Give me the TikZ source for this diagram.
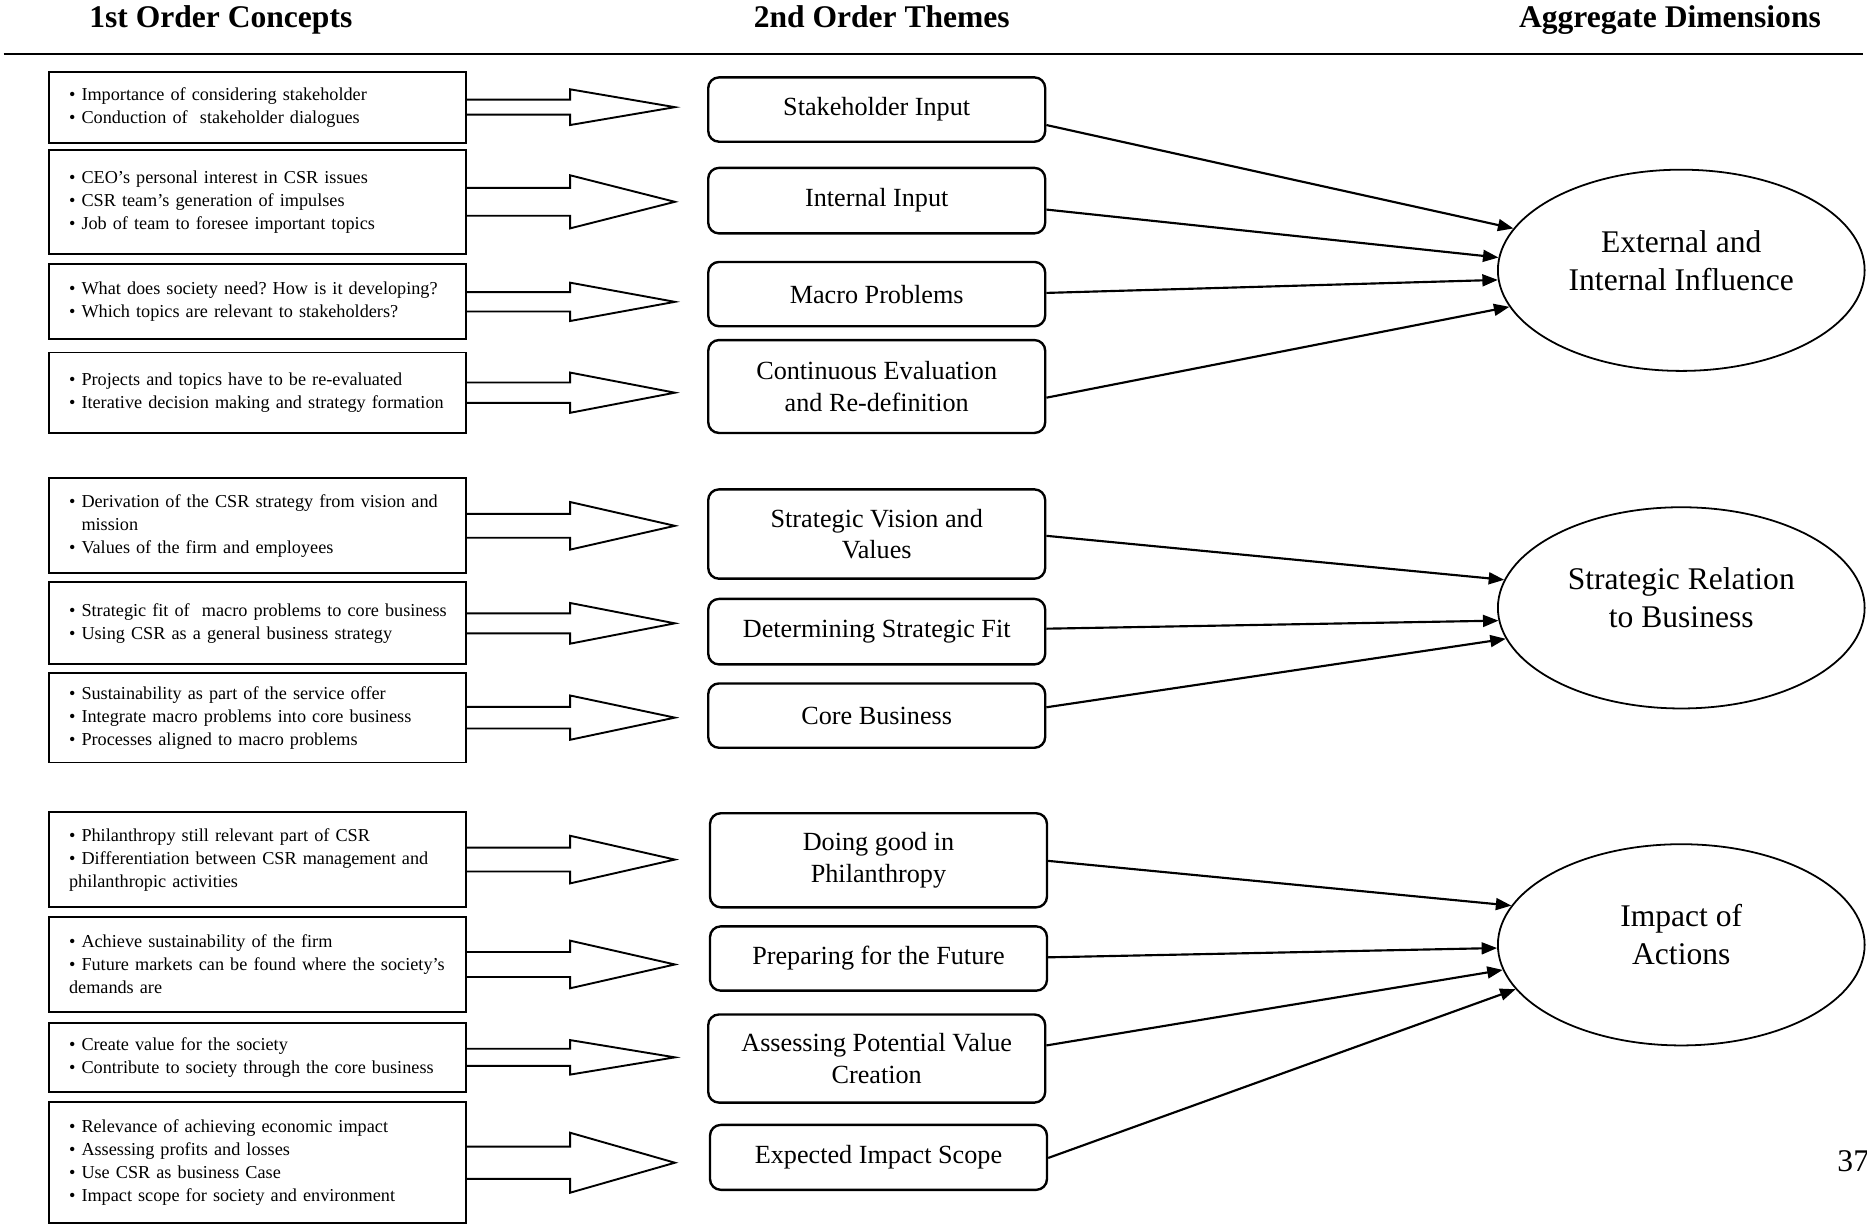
\documentclass[tikz,border=0pt]{standalone}
\usepackage{fontspec}
\setmainfont{Liberation Serif}
\usetikzlibrary{shapes.geometric,arrows.meta}

\tikzstyle{concept}=[draw,line width=1.6pt,minimum width=350pt,text width=330pt,inner xsep=10pt,inner ysep=0pt,align=left,
	font=\fontsize{15.3}{19.3}\selectfont,execute at begin node={\leftskip=7pt}]
\tikzstyle{theme}=[draw,rounded corners=9pt,line width=2pt,minimum width=283pt,inner sep=2pt,align=center,font=\fontsize{22}{26.5}\selectfont]
\tikzstyle{aggdim}=[ellipse,draw,line width=1.5pt,minimum width=308pt,minimum height=169pt,inner sep=0pt,font=\fontsize{26.5}{32}\selectfont]
\tikzstyle{header}=[anchor=base,inner sep=0pt,font=\fontsize{26.5}{32}\selectfont\bfseries]
\tikzstyle{bigarrow}=[line width=1.6pt,line join=miter]
\tikzstyle{link}=[line width=1.8pt,-{Triangle[length=13pt,width=10pt]}]

% text of the ellipses sits a little above their centre
\newcommand{\lifted}[1]{\raisebox{5.5pt}[\height][\depth]{\begin{tabular}{@{}c@{}}#1\end{tabular}}}

\begin{document}
\frenchspacing
\hyphenpenalty=10000
\exhyphenpenalty=10000
\begin{tikzpicture}[x=1pt,y=-1pt]
		\useasboundingbox (0,0) rectangle (1568,1028);
		
		\node (h1) at (185.5,23) [header] {1st Order Concepts};
		\node (h2) at (740.5,23) [header] {2nd Order Themes};
		\node (h3) at (1402.5,23) [header] {Aggregate Dimensions};
		\draw [line width=1.6pt] (3,45.6) -- (1565,45.6);
		
		% 1st order concepts
		\node (c1) at (216,90) [concept,minimum height=59.6pt] {• Importance of considering stakeholder\\ • Conduction of~ stakeholder dialogues};
		\node (c2) at (216,169.5) [concept,minimum height=87pt] {• CEO’s personal interest in CSR issues\\ • CSR team’s generation of impulses\\ • Job of team to foresee important topics};
		\node (c3) at (216,253.5) [concept,minimum height=63pt] {• What does society need? How is it developing?\\ • Which topics are relevant to stakeholders?};
		\node (c4) at (216,329.8) [concept,minimum height=67.5pt] {• Projects and topics have to be re-evaluated\\ • Iterative decision making and strategy formation};
		\node (c5) at (216,441.6) [concept,minimum height=80pt] {• Derivation of the CSR strategy from vision and\\ \phantom{• }mission\\ • Values of the firm and employees};
		\node (c6) at (216,523.5) [concept,minimum height=69pt] {• Strategic fit of~ macro problems to core business\\ • Using CSR as a general business strategy};
		\node (c7) at (216,602.7) [concept,minimum height=75.4pt] {• Sustainability as part of the service offer\\ • Integrate macro problems into core business\\ • Processes aligned to macro problems};
		\node (c8) at (216,721.9) [concept,minimum height=80.3pt] {• Philanthropy still relevant part of CSR\\ • Differentiation between CSR management and\\ philanthropic activities};
		\node (c9) at (216,810) [concept,minimum height=80pt] {• Achieve sustainability of the firm\\ • Future markets can be found where the society’s\\ demands are};
		\node (c10) at (216,888) [concept,minimum height=58pt] {• Create value for the society\\ • Contribute to society through the core business};
		\node (c11) at (216,976.5) [concept,minimum height=102pt] {• Relevance of achieving economic impact\\ • Assessing profits and losses\\ • Use CSR as business Case\\ • Impact scope for society and environment};
		
		% 2nd order themes
		\node (t1) at (736.3,92) [theme,minimum height=54pt] {Stakeholder Input};
		\node (t2) at (736.3,168.5) [theme,minimum height=55pt] {Internal Input};
		\node (t3) at (736.3,247) [theme,minimum height=54pt] {Macro Problems};
		\node (t4) at (736.3,324.6) [theme,minimum height=78pt] {Continuous Evaluation\\ and Re-definition};
		\node (t5) at (736.3,448.5) [theme,minimum height=75pt] {Strategic Vision and\\ Values};
		\node (t6) at (736.3,530.5) [theme,minimum height=55pt] {Determining Strategic Fit};
		\node (t7) at (736.3,601) [theme,minimum height=54pt] {Core Business};
		\node (t8) at (737.8,722.5) [theme,minimum height=79pt] {Doing good in\\ Philanthropy};
		\node (t9) at (737.8,805) [theme,minimum height=54pt] {Preparing for the Future};
		\node (t10) at (736.3,889) [theme,minimum height=74pt] {Assessing Potential Value\\ Creation};
		\node (t11) at (737.8,972) [theme,minimum height=54.5pt] {Expected Impact Scope};
		
		% aggregate dimensions
		\node (d1) at (1412,227) [aggdim] {\lifted{External and\\ Internal Influence}};
		\node (d2) at (1412,510.5) [aggdim] {\lifted{Strategic Relation\\ to Business}};
		\node (d3) at (1412,793.5) [aggdim] {\lifted{Impact of\\ Actions}};
		
		\node (pg) at (1543,984) [anchor=base west,inner sep=0pt,font=\fontsize{26.5}{32}\selectfont] {37};
		
		% block arrows: box / shaft half width / head half width
		\foreach \n/\s/\h in {1/6.3/15,2/11.7/22.3,3/8.1/16.1,4/8.6/16.9,5/10/20,6/8.4/17.1,7/9.1/18.6,8/10/20,9/10.5/20,10/7.2/14.5,11/13.5/25.2}
			\draw [bigarrow] (c\n.east) ++(0,-\s) -- ++(87,0) -- ++(0,{\s-\h}) -- ++(88,\h) -- ++(-88,\h) -- ++(0,{\s-\h}) -- ++(-87,0);
		
		\foreach \i/\sh/\e/\ang in {1/-13/1/166.5,2/-7.5/1/176.7,3/1/1/183,4/-9.4/1/192.7,5/-1.5/2/171,6/2.5/2/184.3,7/7/2/190.9,8/-0.5/3/167.5,9/1/3/181,10/11/3/188.9,11/-0.5/3/195.5}
			\draw [link] ([yshift=\sh pt]t\i.east) -- (d\e.\ang);
	\end{tikzpicture}
\end{document}
